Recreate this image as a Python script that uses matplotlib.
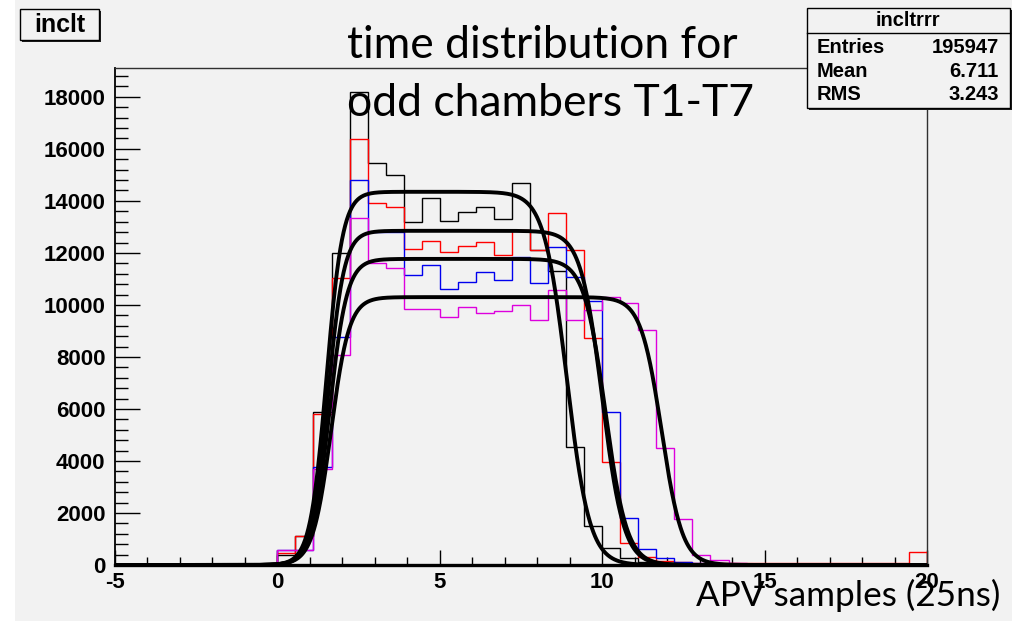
import numpy as np
import matplotlib
matplotlib.use('Agg')
import matplotlib.pyplot as plt
from matplotlib.patches import Rectangle

plt.rcParams['axes.unicode_minus'] = False

# ---------------- data ----------------
x_min, x_max, n_bins = -5.0, 20.0, 45
y_max = 19110

# bin contents for bins 9..44 (bins 0..8 are empty)
black_counts = [400, 1130, 5900, 12000, 18200, 15450, 15000, 13200, 14100, 13230,
                13570, 13750, 13310, 14680, 12100, 11300, 4540, 1500, 650, 270,
                100, 60, 40, 30, 20, 20, 20, 20, 20, 20, 20, 20, 20, 20, 20, 20]
red_counts = [450, 1130, 5800, 11050, 16380, 13920, 13780, 12150, 12440, 12050,
              12250, 12410, 11910, 12900, 12120, 13530, 12120, 8730, 3970, 833,
              300, 150, 100, 80, 60, 60, 60, 60, 60, 60, 60, 60, 90, 90, 90, 500]
blue_counts = [580, 580, 3750, 8770, 14810, 12820, 12820, 11150, 11540, 10600,
               10900, 11280, 10960, 11840, 10850, 12240, 11070, 10160, 5900, 1800,
               630, 270, 120, 80, 40, 40, 40, 40, 40, 40, 40, 40, 40, 40, 40, 40]
magenta_counts = [580, 580, 3700, 8080, 13330, 11610, 11420, 9850, 9850, 9550,
                  9930, 9700, 9780, 10000, 9420, 10580, 9420, 9800, 10300, 10060,
                  9040, 4490, 1770, 385, 190, 90, 40, 40, 40, 40, 40, 40, 40, 40, 40, 40]
first_filled_bin = 9

hist_colors = ['black', '#ff0000', '#0000ee', '#dd00dd']

# fit results (plateau, rise point, rise width, fall point, fall width)
fit_amp = [14350, 12850, 11770, 10300]
fit_rise = [1.51, 1.55, 1.60, 1.65]
fit_rise_w = [0.25, 0.25, 0.27, 0.28]
fit_fall = [8.91, 10.00, 10.10, 11.83]
fit_fall_w = [0.35, 0.33, 0.33, 0.32]

x_ticks = [-5, 0, 5, 10, 15, 20]
y_ticks = [0, 2000, 4000, 6000, 8000, 10000, 12000, 14000, 16000, 18000]

stats_title = 'incltrrr'
stats_rows = [('Entries', '195947'), ('Mean', '6.711'), ('RMS', '3.243')]

# ---------------- figure ----------------
W, H = 1026, 621
fig = plt.figure(figsize=(W / 100, H / 100), dpi=100)
fig.patch.set_facecolor('white')
BG = '#f2f2f2'


def fx(px):
    return px / W


def fy(py):
    return 1 - py / H


fig.add_artist(Rectangle((fx(15), 0), fx(1012) - fx(15), 1, transform=fig.transFigure,
                         facecolor=BG, edgecolor='none', zorder=0))

ax = fig.add_axes([fx(115), fy(565), fx(927) - fx(115), fy(68) - fy(565)])
ax.set_facecolor(BG)
ax.set_xlim(x_min, x_max)
ax.set_ylim(0, y_max)

edges = np.linspace(x_min, x_max, n_bins + 1)


def full(counts):
    arr = np.zeros(n_bins)
    arr[first_filled_bin:first_filled_bin + len(counts)] = counts
    return arr


for counts, col in zip([black_counts, red_counts, blue_counts, magenta_counts], hist_colors):
    ax.stairs(full(counts), edges, baseline=0, color=col, lw=1.0, zorder=3)

xf = np.linspace(x_min, x_max, 1500)
for A, t1, w1, t2, w2 in zip(fit_amp, fit_rise, fit_rise_w, fit_fall, fit_fall_w):
    yf = A / ((1 + np.exp(-(xf - t1) / w1)) * (1 + np.exp((xf - t2) / w2)))
    ax.plot(xf, yf, color='black', lw=2.8, zorder=4, solid_capstyle='round')

# spines
for s in ['top', 'right']:
    ax.spines[s].set_linewidth(1.0)
    ax.spines[s].set_color('#303030')
ax.spines['left'].set_linewidth(1.3)
ax.spines['bottom'].set_linewidth(2.4)
ax.spines['bottom'].set_zorder(5)

tick_font = dict(family=['Liberation Sans', 'DejaVu Sans'], weight='bold', size=16)
ax.set_xticks(x_ticks)
ax.set_xticklabels([str(v) for v in x_ticks], fontdict=tick_font)
ax.set_yticks(y_ticks)
ax.set_yticklabels([str(v) for v in y_ticks], fontdict=tick_font)
ax.set_xticks(np.arange(-5, 21, 1), minor=True)
ax.set_yticks(np.arange(0, y_max, 400), minor=True)
ax.tick_params(axis='y', which='major', direction='in', length=18, width=1.0, pad=7)
ax.tick_params(axis='y', which='minor', direction='in', length=9, width=1.0)
ax.tick_params(axis='x', which='major', direction='in', length=11, width=1.0, pad=5)
ax.tick_params(axis='x', which='minor', direction='in', length=6, width=1.0)

# ---------------- title box "inclt" ----------------
def shadow_box(x0, y0, x1, y1, off=3):
    fig.add_artist(Rectangle((fx(x0 + off), fy(y1 + off)), fx(x1) - fx(x0), fy(y0) - fy(y1),
                             transform=fig.transFigure, facecolor='#202020', edgecolor='none', zorder=6))
    fig.add_artist(Rectangle((fx(x0), fy(y1)), fx(x1) - fx(x0), fy(y0) - fy(y1),
                             transform=fig.transFigure, facecolor=BG, edgecolor='black', lw=1.0, zorder=7))


shadow_box(20, 9, 99, 40, off=2)
fig.text(fx(59.5), fy(24.5), 'inclt', ha='center', va='center', fontsize=18,
         family=['Liberation Sans', 'DejaVu Sans'], weight='bold', zorder=8)

# ---------------- stats box ----------------
shadow_box(807, 8, 1010, 108, off=2)
fig.add_artist(plt.Line2D([fx(807), fx(1010)], [fy(33), fy(33)], transform=fig.transFigure,
                          color='black', lw=1.0, zorder=8))
stat_font = dict(family=['Liberation Sans', 'DejaVu Sans'], weight='bold', fontsize=14.5, zorder=8)
fig.text(fx(908), fy(21), stats_title, ha='center', va='center', **stat_font)
for i, (lab, val) in enumerate(stats_rows):
    yy = 47.5 + i * 23.7
    fig.text(fx(817), fy(yy), lab, ha='left', va='center', **stat_font)
    fig.text(fx(999), fy(yy), val, ha='right', va='center', **stat_font)

# ---------------- overlay annotations ----------------
big_font = dict(family=['Lato', 'DejaVu Sans'], zorder=9, color='black')
fig.text(fx(347), fy(58), 'time distribution for', ha='left', va='baseline', fontsize=32, **big_font)
fig.text(fx(347), fy(116), 'odd chambers T1-T7', ha='left', va='baseline', fontsize=32, **big_font)
fig.text(fx(1000), fy(606), 'APV samples (25ns)', ha='right', va='baseline', fontsize=25.3, **big_font)

fig.savefig('out.png', dpi=100, facecolor=fig.get_facecolor())
